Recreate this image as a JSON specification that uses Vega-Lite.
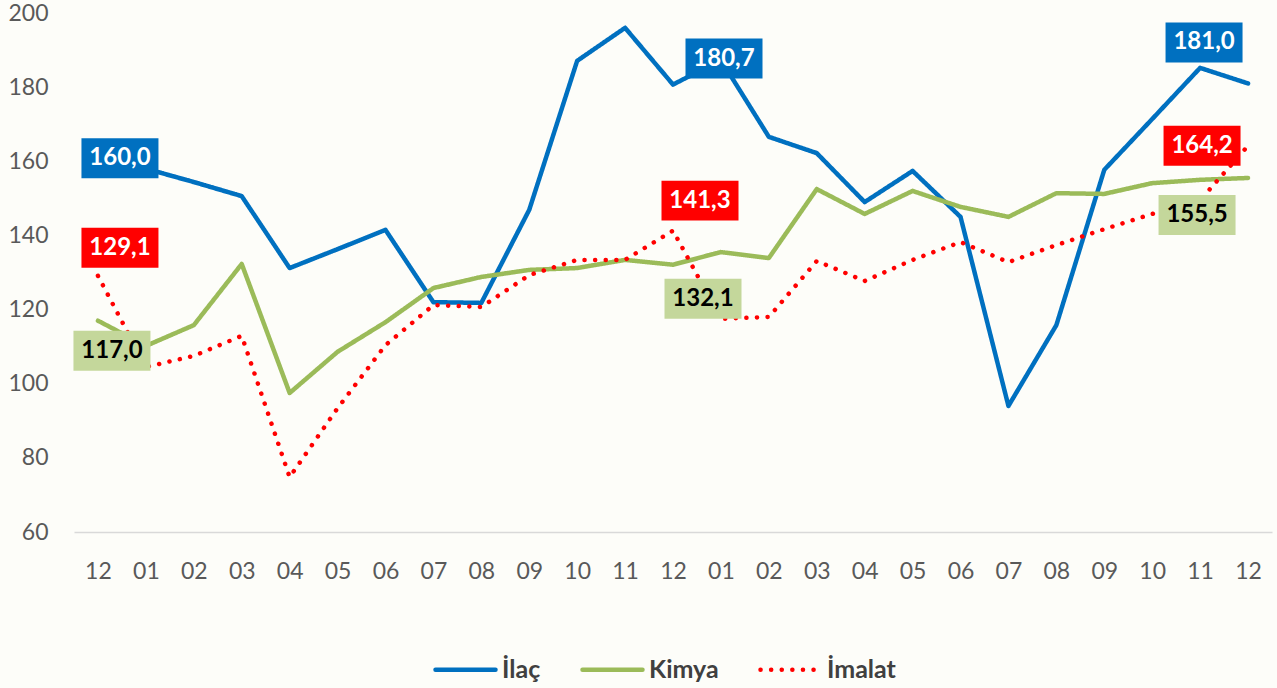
{
  "$schema": "https://vega.github.io/schema/vega-lite/v6.json",
  "width": 1198,
  "height": 519,
  "autosize": "none",
  "padding": {"left": 74, "top": 13, "right": 5, "bottom": 156},
  "background": "#fdfdf9",
  "config": {
    "view": {"stroke": null},
    "font": "Lato",
    "locale": {"number": {"decimal": ",", "thousands": ".", "grouping": [3], "currency": ["", " TL"]}}
  },
  "data": {
    "values": [
      {"donem": "1-12", "seri": "İlaç", "deger": 160.0},
      {"donem": "2-01", "seri": "İlaç", "deger": 158.0},
      {"donem": "2-02", "seri": "İlaç", "deger": 154.4},
      {"donem": "2-03", "seri": "İlaç", "deger": 150.6},
      {"donem": "2-04", "seri": "İlaç", "deger": 131.2},
      {"donem": "2-05", "seri": "İlaç", "deger": 136.3},
      {"donem": "2-06", "seri": "İlaç", "deger": 141.5},
      {"donem": "2-07", "seri": "İlaç", "deger": 122.0},
      {"donem": "2-08", "seri": "İlaç", "deger": 121.8},
      {"donem": "2-09", "seri": "İlaç", "deger": 146.9},
      {"donem": "2-10", "seri": "İlaç", "deger": 187.1},
      {"donem": "2-11", "seri": "İlaç", "deger": 196.0},
      {"donem": "2-12", "seri": "İlaç", "deger": 180.7},
      {"donem": "3-01", "seri": "İlaç", "deger": 187.3},
      {"donem": "3-02", "seri": "İlaç", "deger": 166.6},
      {"donem": "3-03", "seri": "İlaç", "deger": 162.2},
      {"donem": "3-04", "seri": "İlaç", "deger": 149.0},
      {"donem": "3-05", "seri": "İlaç", "deger": 157.4},
      {"donem": "3-06", "seri": "İlaç", "deger": 145.0},
      {"donem": "3-07", "seri": "İlaç", "deger": 94.0},
      {"donem": "3-08", "seri": "İlaç", "deger": 115.8},
      {"donem": "3-09", "seri": "İlaç", "deger": 157.7},
      {"donem": "3-10", "seri": "İlaç", "deger": 171.4},
      {"donem": "3-11", "seri": "İlaç", "deger": 185.2},
      {"donem": "3-12", "seri": "İlaç", "deger": 181.0},
      {"donem": "1-12", "seri": "Kimya", "deger": 117.0},
      {"donem": "2-01", "seri": "Kimya", "deger": 110.2},
      {"donem": "2-02", "seri": "Kimya", "deger": 115.8},
      {"donem": "2-03", "seri": "Kimya", "deger": 132.3},
      {"donem": "2-04", "seri": "Kimya", "deger": 97.5},
      {"donem": "2-05", "seri": "Kimya", "deger": 108.6},
      {"donem": "2-06", "seri": "Kimya", "deger": 116.6},
      {"donem": "2-07", "seri": "Kimya", "deger": 125.8},
      {"donem": "2-08", "seri": "Kimya", "deger": 128.8},
      {"donem": "2-09", "seri": "Kimya", "deger": 130.7},
      {"donem": "2-10", "seri": "Kimya", "deger": 131.2},
      {"donem": "2-11", "seri": "Kimya", "deger": 133.4},
      {"donem": "2-12", "seri": "Kimya", "deger": 132.1},
      {"donem": "3-01", "seri": "Kimya", "deger": 135.5},
      {"donem": "3-02", "seri": "Kimya", "deger": 133.9},
      {"donem": "3-03", "seri": "Kimya", "deger": 152.5},
      {"donem": "3-04", "seri": "Kimya", "deger": 145.8},
      {"donem": "3-05", "seri": "Kimya", "deger": 152.0},
      {"donem": "3-06", "seri": "Kimya", "deger": 147.7},
      {"donem": "3-07", "seri": "Kimya", "deger": 145.0},
      {"donem": "3-08", "seri": "Kimya", "deger": 151.4},
      {"donem": "3-09", "seri": "Kimya", "deger": 151.2},
      {"donem": "3-10", "seri": "Kimya", "deger": 154.1},
      {"donem": "3-11", "seri": "Kimya", "deger": 155.0},
      {"donem": "3-12", "seri": "Kimya", "deger": 155.5},
      {"donem": "1-12", "seri": "İmalat", "deger": 129.1},
      {"donem": "2-01", "seri": "İmalat", "deger": 104.5},
      {"donem": "2-02", "seri": "İmalat", "deger": 107.5},
      {"donem": "2-03", "seri": "İmalat", "deger": 112.9},
      {"donem": "2-04", "seri": "İmalat", "deger": 74.8},
      {"donem": "2-05", "seri": "İmalat", "deger": 93.4},
      {"donem": "2-06", "seri": "İmalat", "deger": 110.4},
      {"donem": "2-07", "seri": "İmalat", "deger": 121.2},
      {"donem": "2-08", "seri": "İmalat", "deger": 120.7},
      {"donem": "2-09", "seri": "İmalat", "deger": 129.3},
      {"donem": "2-10", "seri": "İmalat", "deger": 133.4},
      {"donem": "2-11", "seri": "İmalat", "deger": 133.4},
      {"donem": "2-12", "seri": "İmalat", "deger": 141.3},
      {"donem": "3-01", "seri": "İmalat", "deger": 117.5},
      {"donem": "3-02", "seri": "İmalat", "deger": 118.0},
      {"donem": "3-03", "seri": "İmalat", "deger": 133.1},
      {"donem": "3-04", "seri": "İmalat", "deger": 127.7},
      {"donem": "3-05", "seri": "İmalat", "deger": 133.4},
      {"donem": "3-06", "seri": "İmalat", "deger": 138.2},
      {"donem": "3-07", "seri": "İmalat", "deger": 132.8},
      {"donem": "3-08", "seri": "İmalat", "deger": 137.4},
      {"donem": "3-09", "seri": "İmalat", "deger": 141.7},
      {"donem": "3-10", "seri": "İmalat", "deger": 145.8},
      {"donem": "3-11", "seri": "İmalat", "deger": 149.5},
      {"donem": "3-12", "seri": "İmalat", "deger": 164.2}
    ]
  },
  "encoding": {
    "x": {
      "field": "donem", "type": "ordinal", "sort": null,
      "scale": {"type": "point", "padding": 0.5},
      "axis": {"title": null, "labelExpr": "split(datum.value, '-')[1]", "labelAngle": 0, "labelFont": "Lato", "labelFontSize": 23, "labelColor": "#595959", "labelPadding": 28, "ticks": false, "domainColor": "#d9d9d9", "domainWidth": 1.5, "grid": false}
    },
    "y": {
      "field": "deger", "type": "quantitative",
      "scale": {"domain": [60, 200], "nice": false, "zero": false},
      "axis": {"title": null, "values": [60, 80, 100, 120, 140, 160, 180, 200], "labelFont": "Lato", "labelFontSize": 23, "labelColor": "#595959", "labelPadding": 26, "ticks": false, "domain": false, "grid": false}
    }
  },
  "layer": [
    {
      "mark": {"type": "line", "strokeWidth": 4.5, "strokeCap": "round", "strokeJoin": "round"},
      "encoding": {
        "color": {
          "field": "seri", "type": "nominal",
          "scale": {"domain": ["İlaç", "Kimya", "İmalat"], "range": ["#0070C0", "#9BBB59", "#FF0000"]},
          "legend": {"orient": "none", "legendX": 359, "legendY": 624, "direction": "horizontal", "title": null, "symbolType": "stroke", "symbolSize": 3600, "symbolStrokeWidth": 4.5, "labelFont": "Lato", "labelFontSize": 25, "labelFontWeight": "bold", "labelColor": "#404040", "columnPadding": 32, "padding": 0, "labelOffset": 4, "encoding": {"symbols": {"strokeCap": {"value": "round"}}}}
        },
        "strokeDash": {
          "field": "seri", "type": "nominal",
          "scale": {"domain": ["İlaç", "Kimya", "İmalat"], "range": [[1, 0], [1, 0], [0.1, 10.5]]},
          "legend": {"orient": "none", "legendX": 359, "legendY": 624, "direction": "horizontal", "title": null, "symbolType": "stroke", "symbolSize": 3600, "symbolStrokeWidth": 4.5, "labelFont": "Lato", "labelFontSize": 25, "labelFontWeight": "bold", "labelColor": "#404040", "columnPadding": 32, "padding": 0, "labelOffset": 4, "encoding": {"symbols": {"strokeCap": {"value": "round"}}}}
        }
      }
    },
    {
      "transform": [{"filter": "datum.seri === 'İlaç' && datum.donem === '1-12'"}],
      "layer": [
        {"mark": {"type": "point", "shape": "M-1,-0.519L1,-0.519L1,0.519L-1,0.519Z", "size": 5929, "filled": true, "opacity": 1, "color": "#0070C0", "strokeWidth": 0, "xOffset": 22, "yOffset": -3}},
        {"mark": {"type": "text", "font": "Lato", "fontSize": 24, "fontWeight": "bold", "color": "#ffffff", "align": "center", "baseline": "middle", "dx": 22, "dy": -3}, "encoding": {"text": {"field": "deger", "type": "quantitative", "format": ".1f"}}}
      ]
    },
    {
      "transform": [{"filter": "datum.seri === 'İmalat' && datum.donem === '1-12'"}],
      "layer": [
        {"mark": {"type": "point", "shape": "M-1,-0.519L1,-0.519L1,0.519L-1,0.519Z", "size": 5929, "filled": true, "opacity": 1, "color": "#FF0000", "strokeWidth": 0, "xOffset": 22, "yOffset": -28}},
        {"mark": {"type": "text", "font": "Lato", "fontSize": 24, "fontWeight": "bold", "color": "#ffffff", "align": "center", "baseline": "middle", "dx": 22, "dy": -28}, "encoding": {"text": {"field": "deger", "type": "quantitative", "format": ".1f"}}}
      ]
    },
    {
      "transform": [{"filter": "datum.seri === 'Kimya' && datum.donem === '1-12'"}],
      "layer": [
        {"mark": {"type": "point", "shape": "M-1,-0.519L1,-0.519L1,0.519L-1,0.519Z", "size": 5929, "filled": true, "opacity": 1, "color": "#C4D79B", "strokeWidth": 0, "xOffset": 14, "yOffset": 30}},
        {"mark": {"type": "text", "font": "Lato", "fontSize": 24, "fontWeight": "bold", "color": "#000000", "align": "center", "baseline": "middle", "dx": 14, "dy": 30}, "encoding": {"text": {"field": "deger", "type": "quantitative", "format": ".1f"}}}
      ]
    },
    {
      "transform": [{"filter": "datum.seri === 'İlaç' && datum.donem === '2-12'"}],
      "layer": [
        {"mark": {"type": "point", "shape": "M-1,-0.519L1,-0.519L1,0.519L-1,0.519Z", "size": 5929, "filled": true, "opacity": 1, "color": "#0070C0", "strokeWidth": 0, "xOffset": 51, "yOffset": -26}},
        {"mark": {"type": "text", "font": "Lato", "fontSize": 24, "fontWeight": "bold", "color": "#ffffff", "align": "center", "baseline": "middle", "dx": 51, "dy": -26}, "encoding": {"text": {"field": "deger", "type": "quantitative", "format": ".1f"}}}
      ]
    },
    {
      "transform": [{"filter": "datum.seri === 'İmalat' && datum.donem === '2-12'"}],
      "layer": [
        {"mark": {"type": "point", "shape": "M-1,-0.519L1,-0.519L1,0.519L-1,0.519Z", "size": 5929, "filled": true, "opacity": 1, "color": "#FF0000", "strokeWidth": 0, "xOffset": 27, "yOffset": -30}},
        {"mark": {"type": "text", "font": "Lato", "fontSize": 24, "fontWeight": "bold", "color": "#ffffff", "align": "center", "baseline": "middle", "dx": 27, "dy": -30}, "encoding": {"text": {"field": "deger", "type": "quantitative", "format": ".1f"}}}
      ]
    },
    {
      "transform": [{"filter": "datum.seri === 'Kimya' && datum.donem === '2-12'"}],
      "layer": [
        {"mark": {"type": "point", "shape": "M-1,-0.519L1,-0.519L1,0.519L-1,0.519Z", "size": 5929, "filled": true, "opacity": 1, "color": "#C4D79B", "strokeWidth": 0, "xOffset": 30, "yOffset": 34}},
        {"mark": {"type": "text", "font": "Lato", "fontSize": 24, "fontWeight": "bold", "color": "#000000", "align": "center", "baseline": "middle", "dx": 30, "dy": 34}, "encoding": {"text": {"field": "deger", "type": "quantitative", "format": ".1f"}}}
      ]
    },
    {
      "transform": [{"filter": "datum.seri === 'İlaç' && datum.donem === '3-12'"}],
      "layer": [
        {"mark": {"type": "point", "shape": "M-1,-0.519L1,-0.519L1,0.519L-1,0.519Z", "size": 5929, "filled": true, "opacity": 1, "color": "#0070C0", "strokeWidth": 0, "xOffset": -44, "yOffset": -41}},
        {"mark": {"type": "text", "font": "Lato", "fontSize": 24, "fontWeight": "bold", "color": "#ffffff", "align": "center", "baseline": "middle", "dx": -44, "dy": -41}, "encoding": {"text": {"field": "deger", "type": "quantitative", "format": ".1f"}}}
      ]
    },
    {
      "transform": [{"filter": "datum.seri === 'İmalat' && datum.donem === '3-12'"}],
      "layer": [
        {"mark": {"type": "point", "shape": "M-1,-0.519L1,-0.519L1,0.519L-1,0.519Z", "size": 5929, "filled": true, "opacity": 1, "color": "#FF0000", "strokeWidth": 0, "xOffset": -46, "yOffset": 0}},
        {"mark": {"type": "text", "font": "Lato", "fontSize": 24, "fontWeight": "bold", "color": "#ffffff", "align": "center", "baseline": "middle", "dx": -46, "dy": 0}, "encoding": {"text": {"field": "deger", "type": "quantitative", "format": ".1f"}}}
      ]
    },
    {
      "transform": [{"filter": "datum.seri === 'Kimya' && datum.donem === '3-12'"}],
      "layer": [
        {"mark": {"type": "point", "shape": "M-1,-0.519L1,-0.519L1,0.519L-1,0.519Z", "size": 5929, "filled": true, "opacity": 1, "color": "#C4D79B", "strokeWidth": 0, "xOffset": -51, "yOffset": 37}},
        {"mark": {"type": "text", "font": "Lato", "fontSize": 24, "fontWeight": "bold", "color": "#000000", "align": "center", "baseline": "middle", "dx": -51, "dy": 37}, "encoding": {"text": {"field": "deger", "type": "quantitative", "format": ".1f"}}}
      ]
    }
  ]
}
